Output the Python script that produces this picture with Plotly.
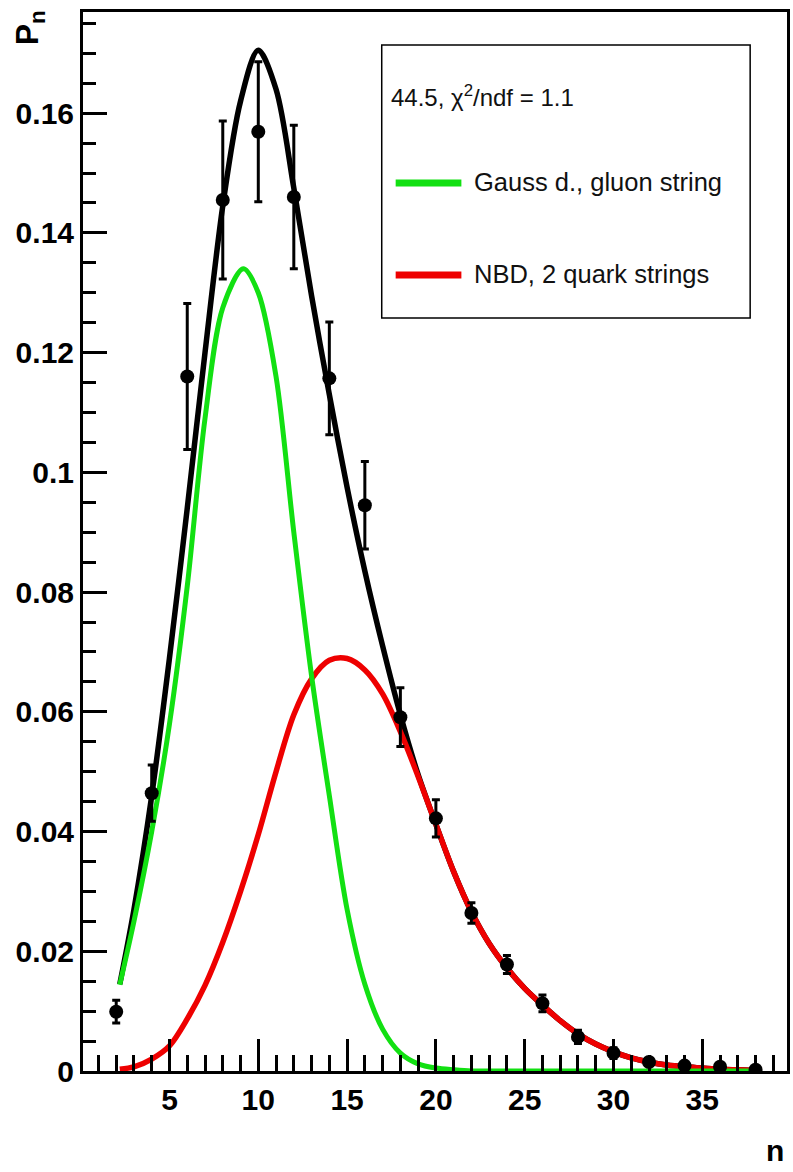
import plotly.graph_objects as go

# ---- data ----
n_data = [2, 4, 6, 8, 10, 12, 14, 16, 18, 20, 22, 24, 26, 28, 30, 32, 34, 36, 38]
p_data = [0.0099, 0.0464, 0.1160, 0.1455, 0.1569, 0.1460, 0.1157, 0.0945, 0.0591,
          0.0422, 0.0264, 0.0178, 0.0113, 0.0057, 0.0030, 0.0015, 0.0009, 0.0007, 0.0002]
p_err = [0.0019, 0.0047, 0.0122, 0.0132, 0.0117, 0.0120, 0.0094, 0.0073, 0.0049,
         0.0031, 0.0017, 0.0015, 0.0014, 0.0011, 0.0009, 0.0005, 0.0004, 0.0004, 0.0003]

n_total = [2.2, 3, 4, 5, 6, 7, 8, 9, 10, 11, 12, 13, 14, 15, 16, 17, 18,
           19, 20, 21, 22, 23, 24, 25, 26, 27, 28, 29, 30, 31, 32, 33, 34, 35, 36, 37, 38]
p_total = [0.0145, 0.027, 0.046, 0.069, 0.094, 0.120, 0.1445, 0.1620,
           0.1705, 0.1640, 0.1475, 0.1295, 0.1130, 0.0975, 0.0835, 0.0710,
           0.0595, 0.0495, 0.0412, 0.0333, 0.0266, 0.0213, 0.0172, 0.0138, 0.0110,
           0.0084, 0.0062, 0.0045, 0.0032, 0.0022, 0.0015, 0.0010, 0.0007, 0.0005,
           0.0003, 0.0002, 0.0001]

n_gauss = [2.2, 3, 4, 5, 6, 7, 8, 9.16, 10, 11, 12, 13, 14, 15, 16, 17, 18,
           19, 20, 21, 22, 24, 26, 28, 30, 32, 34, 36, 38]
p_gauss = [0.0144, 0.025, 0.040, 0.058, 0.081, 0.109, 0.1275, 0.1340, 0.1300,
           0.1160, 0.0900, 0.0660, 0.0460, 0.0270, 0.0145, 0.0070, 0.0030,
           0.0012, 0.0005, 0.0002, 0, 0, 0, 0, 0, 0, 0, 0, 0]

n_nbd = [2.2, 3, 4, 5, 6, 7, 8, 9, 10, 11, 12, 13, 14, 15, 16, 17, 18, 19, 20,
         21, 22, 23, 24, 25, 26, 27, 28, 29, 30, 31, 32, 33, 34, 35, 36, 37, 38]
p_nbd = [0.0003, 0.0007, 0.0020, 0.0042, 0.0087, 0.0143, 0.0215, 0.0300, 0.0395,
         0.0500, 0.0595, 0.0655, 0.0686, 0.0689, 0.0670, 0.0630, 0.0567, 0.0492,
         0.0412, 0.0333, 0.0266, 0.0213, 0.0172, 0.0138, 0.0110, 0.0084, 0.0062,
         0.0045, 0.0032, 0.0022, 0.0015, 0.0010, 0.0007, 0.0005, 0.0003, 0.0002, 0.0001]

y_tickvals = [0, 0.02, 0.04, 0.06, 0.08, 0.1, 0.12, 0.14, 0.16]
y_ticktext = ["0", "0.02", "0.04", "0.06", "0.08", "0.1", "0.12", "0.14", "0.16"]
x_tickvals = [5, 10, 15, 20, 25, 30, 35]

fit_text = "44.5, χ<sup>2</sup>/ndf = 1.1"
label_gauss = "Gauss d., gluon string"
label_nbd = "NBD, 2 quark strings"

GREEN = "#12e012"
RED = "#ee0000"

W, H = 793, 1172
ML, MR, MT, MB = 83, 3, 12, 101
PW, PH = W - ML - MR, H - MT - MB


def px(x):
    return (x - ML) / PW


def py(y):
    return (H - MB - y) / PH


fig = go.Figure()
fig.add_trace(go.Scatter(x=n_total, y=p_total, mode="lines",
                         line=dict(color="black", width=5.5, shape="spline", smoothing=0.9),
                         showlegend=False, hoverinfo="skip"))
fig.add_trace(go.Scatter(x=n_nbd, y=p_nbd, mode="lines",
                         line=dict(color=RED, width=5.5, shape="spline", smoothing=0.9),
                         showlegend=False, hoverinfo="skip"))
fig.add_trace(go.Scatter(x=n_gauss, y=p_gauss, mode="lines",
                         line=dict(color=GREEN, width=5, shape="spline", smoothing=0.9),
                         showlegend=False, hoverinfo="skip"))
fig.add_trace(go.Scatter(x=n_data, y=p_data, mode="markers",
                         marker=dict(color="black", size=14),
                         error_y=dict(type="data", array=p_err, color="black",
                                      thickness=3, width=4),
                         showlegend=False))

tickfont = dict(family="Liberation Sans, Arial, sans-serif", size=30, color="black",
                weight="bold")

fig.update_xaxes(range=[0.13, 39.77], showgrid=False, zeroline=False,
                 showline=True, linecolor="black", linewidth=3, mirror=True,
                 tickmode="array", tickvals=x_tickvals,
                 ticks="inside", ticklen=32, tickwidth=3, tickcolor="black",
                 tickfont=tickfont,
                 minor=dict(tickmode="linear", tick0=0, dtick=1, ticks="inside",
                            ticklen=16, tickwidth=3, tickcolor="black", showgrid=False))
fig.update_yaxes(range=[0, 0.1769], showgrid=False, zeroline=False,
                 showline=True, linecolor="black", linewidth=3, mirror=True,
                 tickmode="array", tickvals=y_tickvals, ticktext=y_ticktext,
                 ticks="inside", ticklen=24, tickwidth=3, tickcolor="black",
                 tickfont=tickfont,
                 minor=dict(tickmode="linear", tick0=0, dtick=0.005, ticks="inside",
                            ticklen=13, tickwidth=3, tickcolor="black", showgrid=False))

# legend box
fig.add_shape(type="rect", xref="paper", yref="paper",
              x0=px(383), x1=px(753), y0=py(318), y1=py(45),
              line=dict(color="black", width=1.5), fillcolor="white", layer="above")
fig.add_shape(type="line", xref="paper", yref="paper",
              x0=px(397), x1=px(463), y0=py(183), y1=py(183),
              line=dict(color=GREEN, width=7))
fig.add_shape(type="line", xref="paper", yref="paper",
              x0=px(397), x1=px(463), y0=py(275), y1=py(275),
              line=dict(color=RED, width=7))

legfont = dict(family="Liberation Sans, Arial, sans-serif", size=25.5, color="#111111")
fig.add_annotation(xref="paper", yref="paper", x=px(390), y=py(96), text=fit_text,
                   showarrow=False, xanchor="left", yanchor="middle",
                   font=dict(family="Liberation Sans, Arial, sans-serif", size=24,
                             color="#111111"))
fig.add_annotation(xref="paper", yref="paper", x=px(474), y=py(182), text=label_gauss,
                   showarrow=False, xanchor="left", yanchor="middle", font=legfont)
fig.add_annotation(xref="paper", yref="paper", x=px(474), y=py(274), text=label_nbd,
                   showarrow=False, xanchor="left", yanchor="middle", font=legfont)

# axis titles
fig.add_annotation(xref="paper", yref="paper", x=px(29), y=py(28),
                   text="P<sub>n</sub>", textangle=-90, showarrow=False,
                   xanchor="center", yanchor="middle",
                   font=dict(family="Liberation Sans, Arial, sans-serif", size=32,
                             color="black", weight="bold"))
fig.add_annotation(xref="paper", yref="paper", x=px(778), y=py(1150),
                   text="n", showarrow=False, xanchor="center", yanchor="middle",
                   font=dict(family="Liberation Sans, Arial, sans-serif", size=30,
                             color="black", weight="bold"))

fig.update_layout(width=W, height=H, margin=dict(l=ML, r=MR, t=MT, b=MB),
                  paper_bgcolor="white", plot_bgcolor="white", showlegend=False)

fig.write_html("out.html")
